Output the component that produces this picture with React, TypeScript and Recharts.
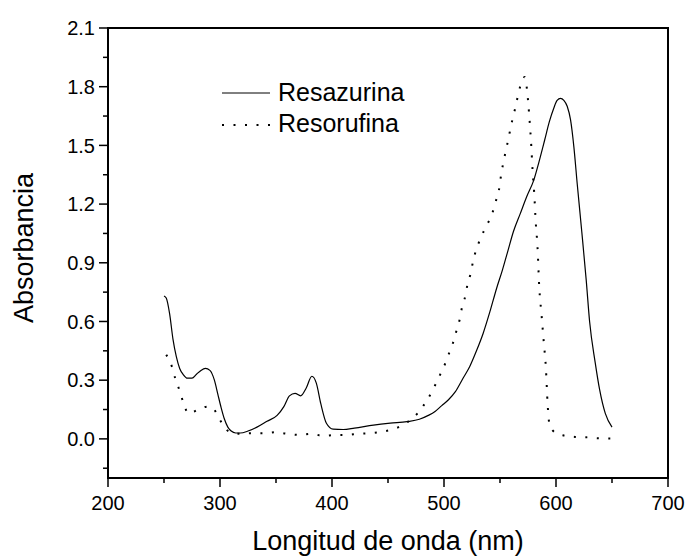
import { Label, Line, LineChart, ReferenceArea, XAxis, YAxis } from "recharts";

const FONT = "'Liberation Sans', Arial, sans-serif";
const INK = "#000";
const MAJOR = 9;
const MINOR = 5;

// x ticks every 50 nm, labels only on hundreds
const X_TICKS = [200, 250, 300, 350, 400, 450, 500, 550, 600, 650, 700];
// y ticks every 0.15, labels only on multiples of 0.3
const Y_TICKS = [-0.15, 0, 0.15, 0.3, 0.45, 0.6, 0.75, 0.9, 1.05, 1.2, 1.35, 1.5, 1.65, 1.8, 1.95, 2.1];

const resazurinaNm = [
  250, 252, 255, 258, 261, 264, 267, 271, 275, 279, 283, 287, 291, 295, 298,
  301, 304, 307, 310, 314, 318, 325, 333, 342, 351, 357, 362, 367, 372, 377,
  382, 386, 390, 395, 401, 410, 420, 437, 452, 467, 478, 486, 492, 498, 504,
  510, 517, 523, 529, 535, 541, 547, 552, 557, 562, 568, 574, 580, 585, 590,
  594, 598, 601, 604, 607, 610, 613, 616, 619, 623, 627, 630, 635, 639, 644,
  650,
];
const resazurinaAbs = [
  0.73, 0.72, 0.64, 0.51, 0.42, 0.36, 0.33, 0.31, 0.31, 0.33, 0.35, 0.36,
  0.35, 0.3, 0.23, 0.16, 0.1, 0.06, 0.04, 0.03, 0.03, 0.04, 0.06, 0.09, 0.12,
  0.165, 0.22, 0.233, 0.22, 0.26, 0.32, 0.285, 0.18, 0.08, 0.05, 0.048, 0.055,
  0.07, 0.08, 0.088, 0.1, 0.12, 0.14, 0.17, 0.2, 0.24, 0.31, 0.37, 0.45, 0.54,
  0.65, 0.77, 0.86, 0.96, 1.06, 1.15, 1.24, 1.32, 1.42, 1.53, 1.62, 1.69,
  1.73, 1.74, 1.73, 1.7, 1.63, 1.49, 1.3, 1.06, 0.81, 0.6, 0.39, 0.25, 0.13,
  0.06,
];

const resorufinaNm = [
  252, 257, 260, 264, 267, 272, 277, 283, 289, 293, 297, 300, 304, 308, 313,
  318, 329, 340, 350, 360, 371, 382, 392, 403, 413, 423, 434, 444, 455, 465,
  476, 484, 490, 495, 500, 504, 508, 511, 514, 516, 519, 521, 524, 526, 529,
  533, 538, 543, 546, 549, 551, 554, 557, 561, 564, 567, 570, 572, 574, 576,
  578, 579, 580.5, 582, 583.5, 585, 587, 589, 591, 592.5, 594, 597, 602, 607,
  617, 627, 638, 649,
];
const resorufinaAbs = [
  0.43, 0.37, 0.31, 0.245, 0.19, 0.13, 0.14, 0.157, 0.165, 0.16, 0.13, 0.097,
  0.06, 0.037, 0.03, 0.026, 0.029, 0.029, 0.034, 0.026, 0.02, 0.026, 0.015,
  0.02, 0.02, 0.026, 0.029, 0.036, 0.05, 0.077, 0.128, 0.19, 0.25, 0.31, 0.37,
  0.43, 0.49, 0.55, 0.61, 0.67, 0.73, 0.79, 0.85, 0.91, 0.97, 1.03, 1.09, 1.15,
  1.21, 1.27, 1.35, 1.44, 1.52, 1.63, 1.7, 1.78, 1.83, 1.85, 1.79, 1.66, 1.49,
  1.38, 1.26, 1.1, 0.98, 0.78, 0.64, 0.5, 0.36, 0.18, 0.08, 0.043, 0.025,
  0.017, 0.01, 0.008, 0.003, 0.002,
];

const resazurina = resazurinaNm.map((nm, i) => ({ nm, abs: resazurinaAbs[i] }));
const resorufina = resorufinaNm.map((nm, i) => ({ nm, abs: resorufinaAbs[i] }));

const isMajorX = (v: number) => v % 100 === 0;
const isMajorY = (v: number) => Math.round(v * 100) % 30 === 0;

const tickText = { fontFamily: FONT, fontSize: 20, fill: INK };

// tick marks as paths: left/bottom point outward, top/right point inward
function LeftTick({ x, y, payload }: any) {
  const major = isMajorY(payload.value);
  return (
    <g>
      <path d={`M${x - (major ? MAJOR : MINOR)},${y}H${x}`} stroke={INK} strokeWidth={1.5} fill="none" />
      {major && (
        <text x={x - 13} y={y} dy="0.36em" textAnchor="end" {...tickText}>
          {Number(payload.value).toFixed(1)}
        </text>
      )}
    </g>
  );
}

function RightTick({ x, y, payload }: any) {
  const major = isMajorY(payload.value);
  return <path d={`M${x - (major ? MAJOR : MINOR)},${y}H${x}`} stroke={INK} strokeWidth={1.5} fill="none" />;
}

function BottomTick({ x, y, payload }: any) {
  const major = isMajorX(payload.value);
  return (
    <g>
      <path d={`M${x},${y}V${y + (major ? MAJOR : MINOR)}`} stroke={INK} strokeWidth={1.5} fill="none" />
      {major && (
        <text x={x} y={y + 32} textAnchor="middle" {...tickText}>
          {payload.value}
        </text>
      )}
    </g>
  );
}

function TopTick({ x, y, payload }: any) {
  const major = isMajorX(payload.value);
  return <path d={`M${x},${y}V${y + (major ? MAJOR : MINOR)}`} stroke={INK} strokeWidth={1.5} fill="none" />;
}

function Legend() {
  return (
    <svg
      width={686}
      height={556}
      style={{ position: "absolute", left: 0, top: 0, pointerEvents: "none" }}
    >
      <line x1={222} x2={270} y1={93} y2={93} stroke={INK} strokeWidth={1} />
      <text x={278} y={101} fontFamily={FONT} fontSize={25} fill={INK}>
        Resazurina
      </text>
      <line x1={222} x2={270} y1={125} y2={125} stroke={INK} strokeWidth={2} strokeDasharray="2 9.5" />
      <text x={278} y={132} fontFamily={FONT} fontSize={25} fill={INK}>
        Resorufina
      </text>
    </svg>
  );
}

export default function App() {
  const axisLine = { stroke: INK, strokeWidth: 2 };
  return (
    <div style={{ position: "absolute", left: 0, top: 0, width: 686, height: 556, background: "#fff" }}>
      <LineChart width={686} height={556} margin={{ top: 28, right: 18, bottom: 0, left: 0 }}>
        <XAxis
          xAxisId="b"
          dataKey="nm"
          type="number"
          domain={[200, 700]}
          ticks={X_TICKS}
          interval={0}
          height={78}
          tickSize={0}
          tickMargin={0}
          tickLine={false}
          axisLine={axisLine}
          tick={<BottomTick />}
          allowDataOverflow
        >
          <Label
            content={({ viewBox }: any) => (
              <text
                x={viewBox.x + viewBox.width / 2}
                y={viewBox.y + viewBox.height - 6}
                textAnchor="middle"
                fontFamily={FONT}
                fontSize={27}
                fill={INK}
              >
                Longitud de onda (nm)
              </text>
            )}
          />
        </XAxis>
        <XAxis
          xAxisId="t"
          orientation="top"
          dataKey="nm"
          type="number"
          domain={[200, 700]}
          ticks={X_TICKS}
          interval={0}
          height={0}
          tickSize={0}
          tickMargin={0}
          tickLine={false}
          axisLine={axisLine}
          tick={<TopTick />}
          allowDataOverflow
        />
        <YAxis
          yAxisId="l"
          type="number"
          domain={[-0.2, 2.1]}
          ticks={Y_TICKS}
          interval={0}
          width={108}
          tickSize={0}
          tickMargin={0}
          tickLine={false}
          axisLine={axisLine}
          tick={<LeftTick />}
          allowDataOverflow
        >
          <Label
            content={({ viewBox }: any) => {
              const cx = viewBox.x + 23;
              const cy = viewBox.y + viewBox.height / 2 - 5;
              return (
                <text
                  x={cx}
                  y={cy}
                  dy="0.36em"
                  transform={`rotate(-90, ${cx}, ${cy})`}
                  textAnchor="middle"
                  fontFamily={FONT}
                  fontSize={27}
                  fill={INK}
                >
                  Absorbancia
                </text>
              );
            }}
          />
        </YAxis>
        <YAxis
          yAxisId="r"
          orientation="right"
          type="number"
          domain={[-0.2, 2.1]}
          ticks={Y_TICKS}
          interval={0}
          width={0}
          tickSize={0}
          tickMargin={0}
          tickLine={false}
          axisLine={axisLine}
          tick={<RightTick />}
          allowDataOverflow
        />
        {/* plot frame */}
        <ReferenceArea
          xAxisId="b"
          yAxisId="l"
          x1={200}
          x2={700}
          y1={-0.2}
          y2={2.1}
          fill="none"
          fillOpacity={0}
          stroke={INK}
          strokeWidth={2}
          strokeOpacity={1}
          ifOverflow="visible"
        />
        <Line
          xAxisId="b"
          yAxisId="l"
          data={resazurina}
          dataKey="abs"
          type="monotone"
          stroke={INK}
          strokeWidth={1.2}
          dot={false}
          isAnimationActive={false}
        />
        <Line
          xAxisId="b"
          yAxisId="l"
          data={resorufina}
          dataKey="abs"
          type="monotone"
          stroke={INK}
          strokeWidth={2}
          strokeDasharray="2 9.5"
          dot={false}
          isAnimationActive={false}
        />
      </LineChart>
      <Legend />
    </div>
  );
}
